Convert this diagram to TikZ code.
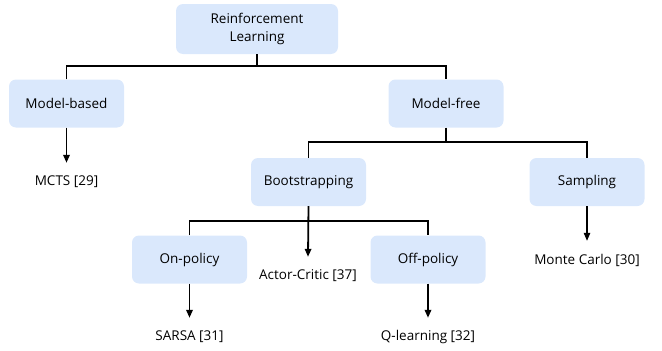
\documentclass[tikz,border=0pt]{standalone}
\usepackage{fontspec}
\setmainfont{Open Sans}
\usetikzlibrary{arrows.meta}
\definecolor{boxblue}{HTML}{DAE8FC}
\tikzset{
  box/.style={fill=boxblue, rounded corners=7pt, minimum width=115pt, minimum height=48pt, inner sep=2pt, align=center, font=\fontsize{13.5}{18}\selectfont},
  leaf/.style={inner sep=0pt, minimum height=38pt, font=\fontsize{13.5}{18}\selectfont},
  link/.style={line width=1.8pt},
  arr/.style={line width=1.8pt, -{Triangle[length=8pt,width=6.5pt]}},
  thinarr/.style={line width=1.1pt, -{Triangle[length=8pt,width=6.5pt]}}
}
\begin{document}
\begin{tikzpicture}[x=1pt,y=-1pt]
\useasboundingbox (0,0) rectangle (662,351);
\node[box, minimum width=162pt, minimum height=50pt] (rl) at (257,29) {Reinforcement\\Learning};
\node[box] (mb) at (66.5,103.5) {Model-based};
\node[box] (mf) at (446,103.5) {Model-free};
\node[box] (boot) at (308.5,182) {Bootstrapping};
\node[box] (samp) at (587,182) {Sampling};
\node[box] (onp) at (189.5,259.5) {On-policy};
\node[box] (offp) at (428,259.5) {Off-policy};
\node[leaf] (mcts) at (66.5,182) {MCTS [29]};
\node[leaf] (mc) at (587,260) {Monte Carlo [30]};
\node[leaf] (ac) at (308,276) {Actor-Critic [37]};
\node[leaf] (sarsa) at (189.5,337) {SARSA [31]};
\node[leaf] (ql) at (428,337) {Q-learning [32]};
\coordinate (j1) at (257,66);
\coordinate (j2) at (446,142);
\coordinate (j3) at (308.5,221);
\draw[link] (rl.south) -- (j1);
\draw[link] (mb.north) |- (j1) -| (mf.north);
\draw[link] (mf.south) -- (j2);
\draw[link] (boot.north) |- (j2) -| (samp.north);
\draw[link] (onp.north) |- (j3) -| (offp.north);
\draw[arr] (boot.south) -- (ac.north);
\draw[arr] (mb.south) -- (mcts.north);
\draw[thinarr] (samp.south) -- (mc.north);
\draw[arr] (onp.south) -- (sarsa.north);
\draw[arr] (offp.south) -- (ql.north);
\end{tikzpicture}
\end{document}
